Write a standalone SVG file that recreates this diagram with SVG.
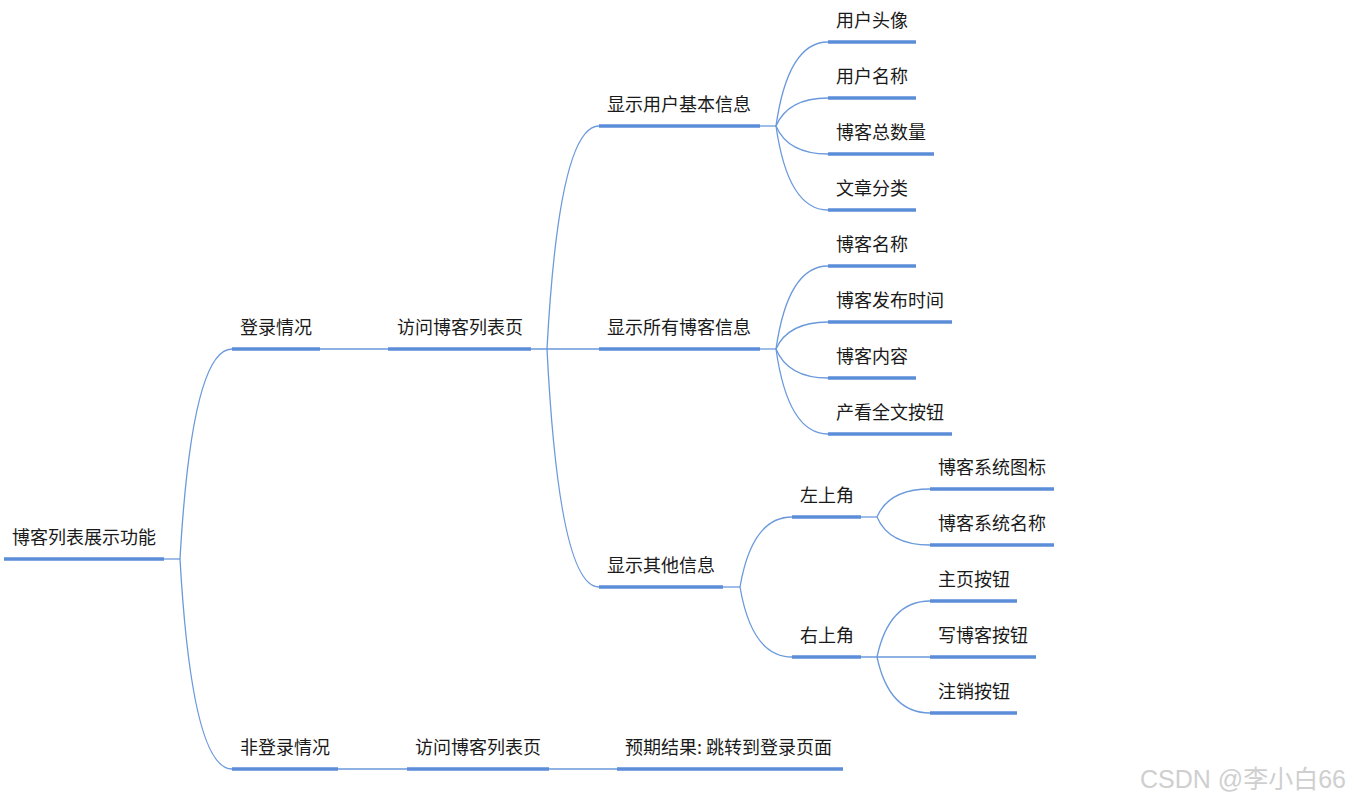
<svg xmlns="http://www.w3.org/2000/svg" width="1356" height="801" viewBox="0 0 1356 801">
<style>
text{font-family:"Microsoft YaHei","Noto Sans CJK SC","Liberation Sans",sans-serif;font-size:18px;fill:#1a1a1a}
.u{stroke:#5b8dd9;stroke-width:3.5;fill:none}
.c{stroke:#6a99dc;stroke-width:1.3;fill:none}
.wm{font-family:"Liberation Sans","Noto Sans CJK SC",sans-serif;font-size:25px;fill:#cfcfcf}
</style>
<rect width="1356" height="801" fill="#ffffff"/>
<g id="connectors">
<path class="c" d="M164,559H180"/>
<path class="c" d="M180,559Q192,349 232,349"/>
<path class="c" d="M180,559Q192,769 232,769"/>
<path class="c" d="M320,349H388"/>
<path class="c" d="M531,349H599"/>
<path class="c" d="M547,349Q559,126 599,126"/>
<path class="c" d="M547,349Q559,587 599,587"/>
<path class="c" d="M760,126H776"/>
<path class="c" d="M776,126Q788,42 828,42"/>
<path class="c" d="M776,126Q788,98 828,98"/>
<path class="c" d="M776,126Q788,154 828,154"/>
<path class="c" d="M776,126Q788,210 828,210"/>
<path class="c" d="M760,349H776"/>
<path class="c" d="M776,349Q788,266 828,266"/>
<path class="c" d="M776,349Q788,322 828,322"/>
<path class="c" d="M776,349Q788,378 828,378"/>
<path class="c" d="M776,349Q788,434 828,434"/>
<path class="c" d="M723,587H740"/>
<path class="c" d="M740,587Q752,517 792,517"/>
<path class="c" d="M740,587Q752,657 792,657"/>
<path class="c" d="M861,517H877"/>
<path class="c" d="M877,517Q889,489 930,489"/>
<path class="c" d="M877,517Q889,545 930,545"/>
<path class="c" d="M861,657H930"/>
<path class="c" d="M877,657Q889,601 930,601"/>
<path class="c" d="M877,657Q889,713 930,713"/>
<path class="c" d="M338,769H407"/>
<path class="c" d="M549,769H617"/>
</g>
<g id="root"><text x="12" y="544">博客列表展示功能</text><path class="u" d="M4,559H164"/></g>
<g id="login"><text x="240" y="334">登录情况</text><path class="u" d="M232,349H320"/></g>
<g id="visit1"><text x="397" y="334">访问博客列表页</text><path class="u" d="M388,349H531"/></g>
<g id="userinfo"><text x="607" y="111">显示用户基本信息</text><path class="u" d="M599,126H760"/></g>
<g id="bloginfo"><text x="607" y="334">显示所有博客信息</text><path class="u" d="M599,349H760"/></g>
<g id="otherinfo"><text x="607" y="572">显示其他信息</text><path class="u" d="M599,587H723"/></g>
<g id="avatar"><text x="836" y="27">用户头像</text><path class="u" d="M828,42H916"/></g>
<g id="username"><text x="836" y="83">用户名称</text><path class="u" d="M828,98H916"/></g>
<g id="blogcount"><text x="836" y="139">博客总数量</text><path class="u" d="M828,154H934"/></g>
<g id="category"><text x="836" y="195">文章分类</text><path class="u" d="M828,210H916"/></g>
<g id="blogname"><text x="836" y="251">博客名称</text><path class="u" d="M828,266H916"/></g>
<g id="blogtime"><text x="836" y="307">博客发布时间</text><path class="u" d="M828,322H952"/></g>
<g id="blogcontent"><text x="836" y="363">博客内容</text><path class="u" d="M828,378H916"/></g>
<g id="fulltext"><text x="836" y="419">产看全文按钮</text><path class="u" d="M828,434H952"/></g>
<g id="topleft"><text x="800" y="502">左上角</text><path class="u" d="M792,517H861"/></g>
<g id="topright"><text x="800" y="642">右上角</text><path class="u" d="M792,657H861"/></g>
<g id="sysicon"><text x="938" y="474">博客系统图标</text><path class="u" d="M930,489H1054"/></g>
<g id="sysname"><text x="938" y="530">博客系统名称</text><path class="u" d="M930,545H1054"/></g>
<g id="homebtn"><text x="938" y="586">主页按钮</text><path class="u" d="M930,601H1017"/></g>
<g id="writebtn"><text x="938" y="642">写博客按钮</text><path class="u" d="M930,657H1036"/></g>
<g id="logoutbtn"><text x="938" y="698">注销按钮</text><path class="u" d="M930,713H1017"/></g>
<g id="nologin"><text x="240" y="754">非登录情况</text><path class="u" d="M232,769H338"/></g>
<g id="visit2"><text x="415" y="754">访问博客列表页</text><path class="u" d="M407,769H549"/></g>
<g id="result"><text x="625" y="754">预期结果: 跳转到登录页面</text><path class="u" d="M617,769H843"/></g>
<text class="wm" x="1140" y="788">CSDN @李小白66</text>
</svg>
